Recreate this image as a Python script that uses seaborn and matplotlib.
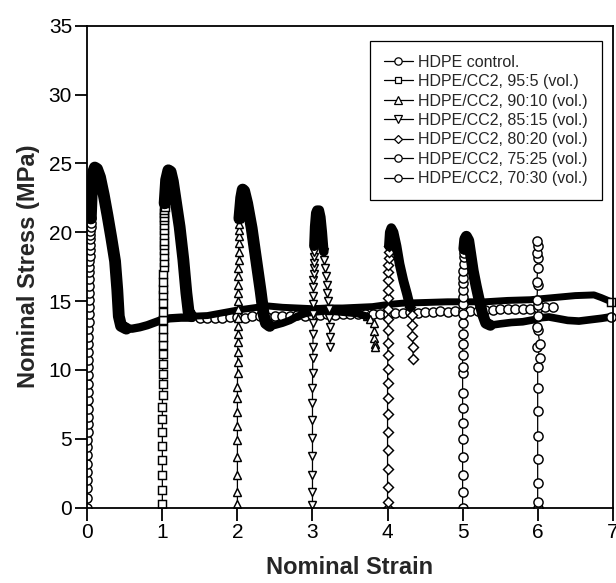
import matplotlib
matplotlib.use("Agg")
import matplotlib.pyplot as plt
from matplotlib.lines import Line2D
import pandas as pd
import seaborn as sns

# ---------------- data ----------------
series_labels = ["HDPE control.", "HDPE/CC2, 95:5 (vol.)", "HDPE/CC2, 90:10 (vol.)",
                 "HDPE/CC2, 85:15 (vol.)", "HDPE/CC2, 80:20 (vol.)",
                 "HDPE/CC2, 75:25 (vol.)", "HDPE/CC2, 70:30 (vol.)"]
series_markers = ["o", "s", "^", "v", "D", "o", "o"]

x_ticks = [0, 1, 2, 3, 4, 5, 6, 7]
y_ticks = [0, 5, 10, 15, 20, 25, 30, 35]

# HDPE control (curve starts at strain 0)
ctrl_rise_strain = [0, 0, 0, 0, 0, 0, 0, 0, 0.002, 0.003, 0.004, 0.005, 0.006, 0.007,
                    0.008, 0.009, 0.010, 0.011, 0.012, 0.013, 0.014, 0.015, 0.016, 0.017,
                    0.018, 0.019, 0.020, 0.021, 0.022, 0.023, 0.025, 0.027, 0.029, 0.031,
                    0.033, 0.035, 0.037, 0.039, 0.041, 0.043, 0.045, 0.047]
ctrl_rise_stress = [0, 0.7, 1.4, 2.0, 2.6, 3.2, 3.8, 4.4, 4.9, 5.5, 6.1, 6.6, 7.2, 7.8,
                    8.4, 9.0, 9.6, 10.2, 10.7, 11.3, 11.9, 12.4, 13.0, 13.5, 14.1, 14.6,
                    15.1, 15.6, 16.1, 16.6, 17.1, 17.5, 17.9, 18.3, 18.7, 19.1, 19.5, 19.8,
                    20.1, 20.4, 20.7, 21.0]
ctrl_peak_strain = [0.047, 0.06, 0.08, 0.10, 0.13, 0.17, 0.22, 0.27, 0.32, 0.37, 0.40,
                    0.42, 0.45, 0.52]
ctrl_peak_stress = [21.0, 23.0, 24.4, 24.7, 24.6, 24.0, 22.7, 21.2, 19.6, 17.9, 15.8,
                    13.9, 13.2, 13.0]
ctrl_plat_strain = [0.52, 0.60, 0.70, 0.80, 0.90, 1.00, 1.10, 1.25, 1.40]
ctrl_plat_stress = [13.0, 13.0, 13.1, 13.25, 13.45, 13.65, 13.75, 13.8, 13.8]
ctrl_tail_strain = [1.5, 1.6, 1.7, 1.8, 1.9, 2.0, 2.1, 2.2, 2.3, 2.4, 2.5, 2.6, 2.7, 2.8,
                    2.9, 3.0, 3.1, 3.2, 3.3, 3.4, 3.5, 3.6, 3.7, 3.8, 3.9, 4.0, 4.1, 4.2,
                    4.3, 4.4, 4.5, 4.6, 4.7, 4.8, 4.9, 5.0, 5.1, 5.2, 5.3, 5.4, 5.5, 5.6,
                    5.7, 5.8, 5.9, 6.0, 6.1, 6.2]
ctrl_tail_stress = [13.8, 13.8, 13.75, 13.8, 13.85, 13.85, 13.8, 13.9, 13.9, 13.85, 13.9,
                    13.95, 13.95, 14.0, 13.95, 14.0, 14.0, 14.05, 14.0, 14.05, 14.05, 14.1,
                    14.05, 14.1, 14.1, 14.1, 14.15, 14.15, 14.2, 14.15, 14.2, 14.2, 14.25,
                    14.2, 14.25, 14.3, 14.3, 14.3, 14.35, 14.35, 14.4, 14.4, 14.4, 14.45,
                    14.45, 14.5, 14.55, 14.6]

# 95:5 (starts at strain 1)
sq_rise_strain = [1.0, 1.0, 1.0, 1.0, 1.0, 1.0, 1.0, 1.0, 1.002, 1.003, 1.004, 1.005,
                  1.006, 1.007, 1.008, 1.009, 1.010, 1.010, 1.011, 1.012, 1.013, 1.014,
                  1.015, 1.016, 1.017, 1.018, 1.019, 1.020, 1.021, 1.022, 1.023, 1.024,
                  1.025, 1.026, 1.027, 1.028, 1.029, 1.030]
sq_rise_stress = [0.27, 1.29, 2.37, 3.46, 4.48, 5.52, 6.44, 7.33, 8.18, 8.98, 9.7, 10.4,
                  11.16, 11.8, 12.4, 13.0, 13.6, 14.2, 14.85, 15.45, 15.9, 16.4, 17.0,
                  17.45, 17.85, 18.3, 18.7, 19.1, 19.4, 19.8, 20.15, 20.5, 20.9, 21.1,
                  21.4, 21.6, 21.8, 22.1]
sq_peak_strain = [1.03, 1.05, 1.08, 1.11, 1.14, 1.17, 1.23, 1.28, 1.32, 1.35, 1.39]
sq_peak_stress = [22.1, 23.8, 24.5, 24.4, 23.7, 22.6, 20.4, 18.0, 15.6, 14.2, 13.9]
sq_plat_strain = [1.39, 1.6, 1.8, 2.0, 2.2, 2.4, 2.6, 2.8, 3.0, 3.2, 3.4, 3.6, 3.8, 4.0,
                  4.2, 4.5, 4.8, 5.0, 5.3, 5.6, 5.9, 6.2, 6.5, 6.75, 6.85, 6.98]
sq_plat_stress = [13.9, 13.95, 14.15, 14.35, 14.5, 14.65, 14.55, 14.5, 14.45, 14.5, 14.5,
                  14.55, 14.6, 14.75, 14.85, 14.9, 14.95, 14.95, 14.95, 15.05, 15.1,
                  15.25, 15.4, 15.45, 15.25, 14.95]

# 90:10 (starts at strain 2)
tri_rise_strain = [2.0, 2.0, 2.0, 2.0, 2.0, 2.0, 2.0, 2.0, 2.0, 2.002, 2.003, 2.004,
                   2.005, 2.006, 2.007, 2.008, 2.009, 2.010, 2.011, 2.012, 2.013, 2.014,
                   2.015, 2.016, 2.018, 2.020, 2.022, 2.024, 2.026]
tri_rise_stress = [0.27, 1.16, 2.37, 3.7, 4.9, 5.9, 6.97, 7.94, 8.79, 9.76, 10.6, 11.3,
                   12.0, 12.6, 13.2, 13.8, 14.4, 15.0, 15.6, 16.2, 16.8, 17.4, 18.0,
                   18.6, 19.2, 19.7, 20.2, 20.6, 21.0]
tri_peak_strain = [2.026, 2.05, 2.07, 2.09, 2.13, 2.19, 2.25, 2.31, 2.35, 2.38, 2.43]
tri_peak_stress = [21.0, 22.5, 23.1, 23.0, 22.1, 20.3, 18.0, 15.7, 14.0, 13.4, 13.2]
tri_plat_strain = [2.43, 2.5, 2.6, 2.7, 2.8, 2.9, 3.0, 3.2, 3.4, 3.6, 3.72]
tri_plat_stress = [13.2, 13.25, 13.4, 13.6, 13.9, 14.1, 14.2, 14.3, 14.2, 14.1, 13.9]
tri_tail_strain = [3.72, 3.77, 3.82, 3.82, 3.82, 3.83, 3.83]
tri_tail_stress = [13.9, 13.7, 13.4, 12.8, 12.3, 11.9, 11.7]

# 85:15 (starts at strain 3)
tdn_rise_strain = [3.0, 3.0, 3.0, 3.0, 3.0, 3.0, 3.0, 3.0, 3.002, 3.004, 3.006, 3.007,
                   3.008, 3.009, 3.010, 3.011, 3.012, 3.013, 3.014, 3.015, 3.016, 3.017,
                   3.018, 3.02]
tdn_rise_stress = [0.2, 1.16, 2.37, 3.75, 5.04, 6.37, 7.58, 8.67, 9.76, 10.85, 11.7, 12.6,
                   13.4, 14.1, 14.8, 15.4, 16.0, 16.5, 17.0, 17.4, 17.8, 18.2, 18.6, 19.0]
tdn_peak_strain = [3.02, 3.03, 3.045, 3.06, 3.09, 3.11, 3.13, 3.15]
tdn_peak_stress = [19.0, 20.4, 21.4, 21.6, 21.6, 21.1, 20.0, 18.6]
tdn_tail_strain = [3.15, 3.16, 3.17, 3.18, 3.19, 3.20, 3.21, 3.22, 3.22, 3.23, 3.23, 3.24]
tdn_tail_stress = [18.6, 18.0, 17.4, 16.8, 16.2, 15.6, 15.0, 14.4, 13.8, 13.1, 12.4, 11.7]

# 80:20 (starts at strain 4)
dia_rise_strain = [4.0, 4.0, 4.0, 4.0, 4.0, 4.0, 4.0, 4.0, 4.0, 4.002, 4.003, 4.004,
                   4.005, 4.006, 4.007, 4.008, 4.009, 4.010, 4.011, 4.012, 4.014, 4.016,
                   4.018]
dia_rise_stress = [0, 0.39, 1.48, 2.81, 4.19, 5.52, 6.8, 7.94, 9.03, 10.05, 11.09, 11.94,
                   12.9, 13.7, 14.4, 15.2, 15.8, 16.5, 17.1, 17.6, 18.1, 18.6, 19.0]
dia_peak_strain = [4.018, 4.03, 4.05, 4.08, 4.12, 4.16, 4.21, 4.26, 4.30]
dia_peak_stress = [19.0, 20.0, 20.3, 20.0, 19.0, 17.7, 16.5, 15.5, 14.6]
dia_tail_strain = [4.30, 4.32, 4.33, 4.33, 4.34, 4.34]
dia_tail_stress = [14.6, 14.0, 13.3, 12.5, 11.7, 10.8]

# 75:25 (starts at strain 5)
c25_rise_strain = [5.0, 5.0, 5.0, 5.0, 5.0, 5.0, 5.0, 5.0, 5.0, 5.0, 5.0, 5.0, 5.002,
                   5.003, 5.004, 5.005, 5.006, 5.007, 5.008, 5.009, 5.010, 5.012, 5.014,
                   5.016, 5.018]
c25_rise_stress = [0, 1.13, 2.4, 3.7, 4.98, 6.16, 7.25, 8.3, 9.75, 10.2, 11.07, 11.9,
                   12.6, 13.4, 14.1, 14.8, 15.3, 15.8, 16.3, 16.7, 17.2, 17.7, 18.2, 18.5,
                   18.8]
c25_peak_strain = [5.018, 5.03, 5.05, 5.08, 5.11, 5.14, 5.18, 5.22, 5.27, 5.31, 5.37]
c25_peak_stress = [18.8, 19.5, 19.7, 19.4, 18.3, 17.2, 16.1, 15.1, 14.0, 13.4, 13.25]
c25_plat_strain = [5.37, 5.5, 5.65, 5.8, 5.95, 6.05, 6.15, 6.25, 6.4, 6.55, 6.7, 6.85,
                   6.98]
c25_plat_stress = [13.25, 13.35, 13.45, 13.5, 13.65, 13.8, 13.85, 13.75, 13.6, 13.55,
                   13.65, 13.75, 13.86]

# 70:30 (starts at strain 6)
c30_rise_strain = [6.0, 6.0, 6.0, 6.0, 6.0, 6.0, 6.0, 6.0, 6.03, 5.99, 6.03, 6.0, 5.99,
                   6.0, 6.0, 5.99, 6.0, 5.99, 6.0, 6.0, 5.99, 6.0, 5.99]
c30_rise_stress = [0, 0.44, 1.8, 3.5, 5.2, 7.0, 8.7, 10.2, 10.9, 11.7, 11.9, 12.9, 13.1,
                   13.9, 14.7, 15.1, 16.2, 16.4, 17.4, 18.1, 18.5, 19.0, 19.4]

# ---------------- styling ----------------
sns.set_style("ticks")
plt.rcParams['font.family'] = ['Liberation Sans', 'DejaVu Sans']
plt.rcParams['axes.linewidth'] = 1.3

fig = plt.figure(figsize=(6.16, 5.83), dpi=100)
ax = fig.add_axes([0.1417, 0.1292, 0.853, 0.8267])

marker_sizes = {"o": 6.6, "s": 5.6, "^": 6.4, "v": 6.4, "D": 4.8}


def marked(xs, ys, m, **kw):
    sns.lineplot(x=xs, y=ys, ax=ax, sort=False, estimator=None, color="black",
                 linewidth=0.9, marker=m, markersize=marker_sizes[m],
                 markerfacecolor="white", markeredgecolor="black",
                 markeredgewidth=1.05, legend=False, **kw)


def band(xs, ys, lw, **kw):
    sns.lineplot(x=xs, y=ys, ax=ax, sort=False, estimator=None, color="black",
                 linewidth=lw, legend=False, solid_joinstyle="round",
                 solid_capstyle="round", **kw)


# control
marked(ctrl_rise_strain, ctrl_rise_stress, "o")
marked(ctrl_tail_strain, ctrl_tail_stress, "o")
band(ctrl_peak_strain, ctrl_peak_stress, 8.5)
band(ctrl_plat_strain, ctrl_plat_stress, 6.0)
# 95:5
marked(sq_rise_strain, sq_rise_stress, "s")
band(sq_peak_strain, sq_peak_stress, 8.5)
band(sq_plat_strain, sq_plat_stress, 5.0)
marked(sq_plat_strain[-1:], sq_plat_stress[-1:], "s", clip_on=False)
# 90:10
marked(tri_rise_strain, tri_rise_stress, "^")
marked(tri_tail_strain, tri_tail_stress, "^")
band(tri_peak_strain, tri_peak_stress, 8.5)
band(tri_plat_strain, tri_plat_stress, 5.5)
# 85:15
marked(tdn_rise_strain, tdn_rise_stress, "v")
marked(tdn_tail_strain, tdn_tail_stress, "v")
band(tdn_peak_strain, tdn_peak_stress, 7.0)
# 80:20
marked(dia_rise_strain, dia_rise_stress, "D")
marked(dia_tail_strain, dia_tail_stress, "D")
band(dia_peak_strain, dia_peak_stress, 7.0)
# 75:25
marked(c25_rise_strain, c25_rise_stress, "o")
band(c25_peak_strain, c25_peak_stress, 8.0)
band(c25_plat_strain, c25_plat_stress, 5.5)
marked(c25_plat_strain[-1:], c25_plat_stress[-1:], "o", clip_on=False)
# 70:30
marked(c30_rise_strain, c30_rise_stress, "o")

ax.set_xlim(0, 7)
ax.set_ylim(0, 35)
ax.set_xticks(x_ticks)
ax.set_yticks(y_ticks)
ax.tick_params(axis="both", direction="out", length=9, width=1.3, labelsize=15,
               pad=2, colors="black")
for s in ax.spines.values():
    s.set_visible(True)
    s.set_color("black")
    s.set_linewidth(1.3)

ax.set_xlabel("Nominal Strain", fontsize=17, fontweight="bold", labelpad=10)
ax.set_ylabel("Nominal Stress (MPa)", fontsize=17, fontweight="bold", labelpad=6)

handles = [Line2D([0], [0], color="black", lw=0.9, marker=m,
                  markersize=marker_sizes[m] * 0.8, markerfacecolor="white",
                  markeredgecolor="black", markeredgewidth=0.9)
           for m in series_markers]
leg = ax.legend(handles, series_labels, loc="upper right",
                bbox_to_anchor=(0.9768, 0.9297), bbox_transform=fig.transFigure,
                frameon=True, fancybox=False, edgecolor="black", framealpha=1,
                fontsize=11.5, handlelength=1.8, handletextpad=0.35,
                labelspacing=0.28, borderpad=0.85, borderaxespad=0, numpoints=1)
leg.get_frame().set_linewidth(0.9)

fig.savefig("out.png", dpi=100)
